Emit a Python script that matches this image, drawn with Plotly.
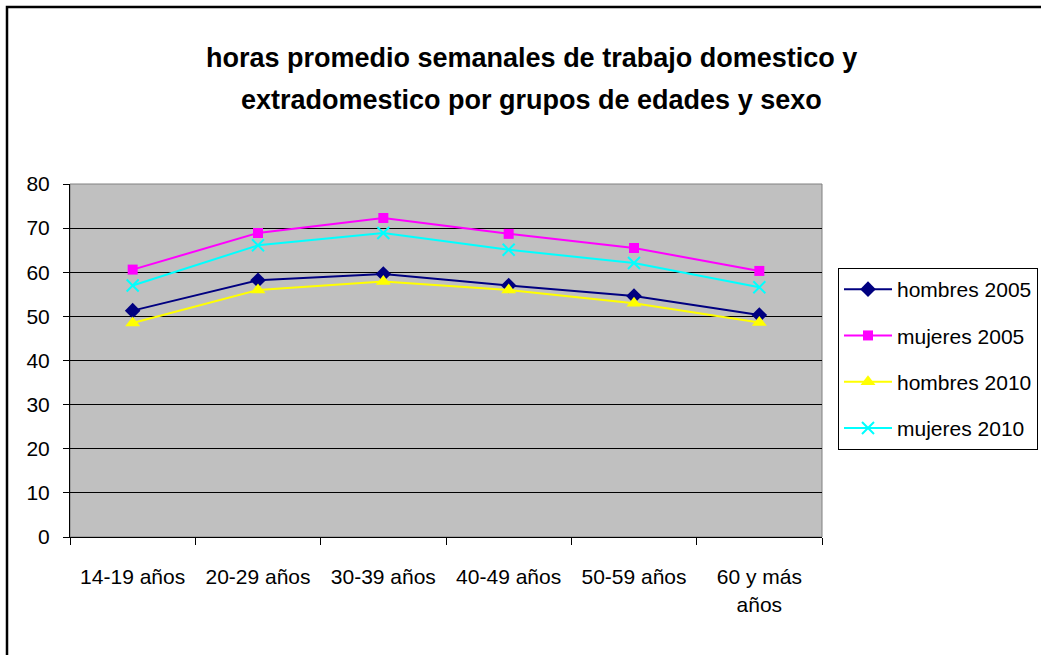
import plotly.graph_objects as go

categories = ["14-19 años", "20-29 años", "30-39 años", "40-49 años", "50-59 años", "60 y más<br>años"]
hombres_2005 = [51.3, 58.2, 59.6, 57.0, 54.6, 50.3]
mujeres_2005 = [60.6, 68.9, 72.3, 68.7, 65.5, 60.3]
hombres_2010 = [48.5, 56.0, 57.9, 56.0, 53.0, 48.6]
mujeres_2010 = [57.0, 66.1, 68.9, 65.1, 62.1, 56.6]
y_ticks = [0, 10, 20, 30, 40, 50, 60, 70, 80]
title_lines = ["horas promedio semanales de trabajo domestico y",
               "extradomestico por grupos de edades y sexo"]

W, H = 1041, 655
L, R, T, B = 70, 822, 184, 537

def px(x):
    return (x - L) / (R - L)

def py(y):
    return (B - y) / (B - T)

FONT = "Liberation Sans, Arial, sans-serif"

series = [
    ("hombres 2005", hombres_2005, "#000080", "diamond", 12, {}),
    ("mujeres 2005", mujeres_2005, "#FF00FF", "square", 10, {}),
    ("hombres 2010", hombres_2010, "#FFFF00", "triangle-up", 13, {}),
    ("mujeres 2010", mujeres_2010, "#00FFFF", "x-thin", 12, {"line": dict(color="#00FFFF", width=2)}),
]

fig = go.Figure()
for i, (name, vals, color, sym, size, extra) in enumerate(series):
    marker = dict(symbol=sym, size=size, color=color)
    marker.update(extra)
    fig.add_trace(go.Scatter(
        x=categories, y=vals, name=name, mode="lines+markers",
        line=dict(color=color, width=2), marker=marker,
        legendgroup=f"g{i}",
    ))

fig.update_layout(
    width=W, height=H,
    margin=dict(l=L, r=W - R, t=T, b=H - B, autoexpand=False),
    paper_bgcolor="white",
    plot_bgcolor="#C0C0C0",
    font=dict(family=FONT, size=21, color="black"),
    showlegend=True,
    legend=dict(
        x=px(838), y=py(268), xanchor="left", yanchor="top",
        bordercolor="black", borderwidth=1, bgcolor="white",
        font=dict(family=FONT, size=21, color="black"),
        tracegroupgap=16, itemwidth=48,
    ),
    xaxis=dict(
        type="category", range=[-0.5, len(categories) - 0.5],
        showgrid=False, showline=True, linecolor="black", linewidth=1,
        ticks="outside", tickson="boundaries", ticklen=7, tickcolor="black",
        ticklabelstandoff=21, zeroline=False,
    ),
    yaxis=dict(
        range=[0, 80], tickvals=y_ticks, showgrid=True, gridcolor="black", gridwidth=1,
        showline=True, linecolor="black", linewidth=1,
        ticks="outside", ticklen=6, tickcolor="black",
        ticklabelstandoff=9, zeroline=False,
    ),
    shapes=[
        dict(type="rect", xref="paper", yref="paper", x0=0, x1=1, y0=0, y1=1,
             line=dict(color="#808080", width=1), layer="below"),
        dict(type="rect", xref="paper", yref="paper",
             x0=px(7), x1=px(1080), y0=py(700), y1=py(7),
             line=dict(color="black", width=2.5)),
    ],
    annotations=[
        dict(text="<b>" + title_lines[0] + "</b>", xref="paper", yref="paper",
             x=px(531), y=py(58), showarrow=False, xanchor="center", yanchor="middle",
             font=dict(family=FONT, size=27, color="black")),
        dict(text="<b>" + title_lines[1] + "</b>", xref="paper", yref="paper",
             x=px(531), y=py(100), showarrow=False, xanchor="center", yanchor="middle",
             font=dict(family=FONT, size=27, color="black")),
    ],
)

fig.write_html("out.html", config={"displayModeBar": False},
               post_script="document.body.style.margin='0px';document.body.style.overflow='hidden';")
